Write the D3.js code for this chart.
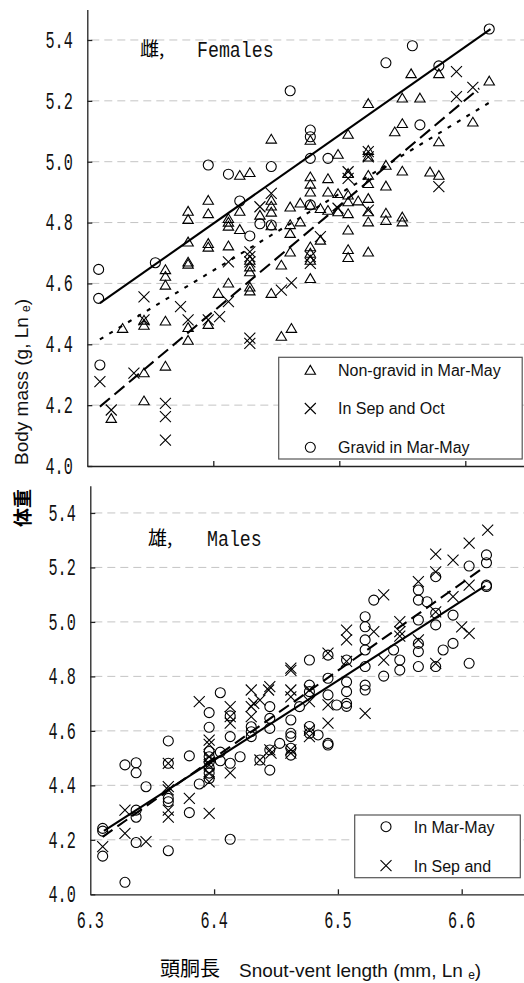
<!DOCTYPE html>
<html><head><meta charset="utf-8">
<script src="https://cdn.jsdelivr.net/npm/d3@7"></script>
<style>body{margin:0;background:#fff}svg{display:block}</style>
</head><body>
<svg id="c" width="524" height="983"></svg>
<script>
// ---------- data ----------
const xTicks = [6.3, 6.4, 6.5, 6.6];
const yTicks = [4.0, 4.2, 4.4, 4.6, 4.8, 5.0, 5.2, 5.4];
const xDomain = [6.3, 6.65];
const yDomain = [4.0, 5.5];

const femaleLegend = ["Non-gravid in Mar-May", "In Sep and Oct", "Gravid in Mar-May"];
const maleLegend = ["In Mar-May", "In Sep and"];

const femaleNonGravid = [
[6.319,4.157],[6.328,4.453],[6.345,4.480],[6.345,4.463],[6.345,4.307],[6.345,4.215],
[6.362,4.646],[6.362,4.624],[6.362,4.595],[6.362,4.477],[6.362,4.329],
[6.380,4.456],[6.380,4.414],[6.380,4.671],[6.380,4.664],[6.380,4.737],[6.380,4.838],[6.380,4.811],
[6.396,4.466],[6.404,4.568],[6.412,4.602],[6.429,4.589],[6.429,4.576],
[6.446,5.075],[6.477,5.071],[6.421,4.956],[6.429,4.965],
[6.396,4.874],[6.396,4.830],[6.412,4.814],[6.412,4.802],[6.412,4.789],
[6.421,4.838],[6.421,4.778],[6.446,4.874],[6.446,4.855],[6.446,4.835],[6.437,4.825],
[6.461,4.852],[6.461,4.794],[6.461,4.765],[6.461,4.704],[6.469,4.865],[6.469,4.803],
[6.477,4.951],[6.477,4.927],[6.477,4.901],[6.477,4.858],[6.485,4.847],[6.491,4.945],[6.491,4.901],
[6.396,4.732],[6.396,4.720],[6.412,4.724],[6.429,4.677],[6.429,4.655],[6.429,4.639],
[6.446,4.568],[6.454,4.661],[6.477,4.721],[6.477,4.700],[6.477,4.677],[6.477,4.617],[6.446,4.790],
[6.507,4.712],[6.507,4.686],[6.523,4.704],[6.454,4.427],[6.462,4.453],[6.485,4.743],
[6.523,5.192],[6.507,5.091],[6.499,5.025],[6.523,5.038],[6.523,5.016],[6.557,5.290],[6.579,5.290],
[6.550,5.210],[6.564,5.210],[6.550,5.126],[6.544,5.099],[6.619,5.266],[6.606,5.131],[6.579,5.066],
[6.537,4.989],[6.550,4.970],[6.572,4.967],[6.579,4.956],[6.507,4.962],[6.523,4.956],[6.523,4.929],
[6.537,4.921],[6.499,4.896],[6.507,4.891],[6.507,4.869],[6.507,4.830],[6.523,4.880],[6.515,4.872],
[6.523,4.836],[6.537,4.832],[6.550,4.819],[6.491,4.841],[6.507,4.776],[6.523,4.803],[6.537,4.808],
[6.550,4.803],[6.499,4.836]
];
const femaleSepOct = [
[6.310,4.277],[6.319,4.184],[6.337,4.305],[6.345,4.556],[6.345,4.480],[6.362,4.206],[6.362,4.162],[6.362,4.085],
[6.374,4.524],[6.380,4.480],[6.396,4.480],[6.405,4.491],[6.412,4.540],[6.412,4.671],
[6.429,4.420],[6.429,4.403],[6.429,4.704],[6.429,4.688],[6.429,4.671],[6.462,4.602],[6.454,4.578],
[6.477,4.688],[6.477,4.666],[6.446,4.896],[6.437,4.852],[6.485,4.754],
[6.593,5.296],[6.593,5.214],[6.606,5.244],[6.579,4.918],[6.523,5.033],[6.523,5.016],
[6.507,4.967],[6.507,4.945],[6.523,4.841],[6.499,4.847]
];
const femaleGravid = [
[6.309,4.646],[6.309,4.551],[6.310,4.332],[6.354,4.668],[6.396,4.989],[6.412,4.959],[6.421,4.871],
[6.437,4.796],[6.429,4.756],[6.446,4.984],[6.446,4.792],[6.477,5.011],[6.477,5.104],[6.477,5.082],
[6.491,5.011],[6.477,4.858],[6.461,5.233],[6.537,5.325],[6.558,5.381],[6.579,5.315],[6.619,5.436],[6.564,5.121]
];
const maleMarMay = [
[6.310,4.242],[6.310,4.232],[6.310,4.140],[6.328,4.475],[6.328,4.044],
[6.337,4.483],[6.337,4.446],[6.337,4.309],[6.337,4.283],[6.337,4.190],[6.345,4.395],
[6.363,4.563],[6.363,4.481],[6.363,4.352],[6.363,4.340],[6.363,4.160],[6.380,4.508],[6.380,4.300],[6.388,4.405],
[6.396,4.667],[6.396,4.613],[6.396,4.524],[6.396,4.505],[6.396,4.485],[6.396,4.465],[6.396,4.445],[6.396,4.425],
[6.405,4.740],[6.405,4.522],[6.405,4.490],[6.413,4.655],[6.413,4.579],[6.413,4.481],[6.413,4.202],[6.421,4.505],
[6.430,4.615],[6.430,4.597],[6.430,4.579],[6.437,4.493],
[6.445,4.689],[6.445,4.646],[6.445,4.609],[6.445,4.456],[6.445,4.530],[6.453,4.554],
[6.462,4.640],[6.462,4.591],[6.462,4.536],[6.462,4.511],[6.462,4.579],[6.469,4.689],
[6.477,4.860],[6.477,4.768],[6.477,4.744],[6.477,4.616],[6.477,4.591],[6.484,4.585],
[6.492,4.793],[6.492,4.732],[6.492,4.554],[6.492,4.548],[6.492,4.878],[6.499,4.695],
[6.507,4.860],[6.507,4.780],[6.507,4.744],[6.507,4.701],[6.507,4.690],
[6.522,5.019],[6.522,4.982],[6.522,4.934],[6.522,4.897],[6.522,4.836],[6.522,4.768],[6.522,4.750],
[6.529,5.080],[6.537,4.801],[6.545,4.897],[6.550,4.860],[6.550,4.823],
[6.565,5.117],[6.565,5.080],[6.565,5.007],[6.565,4.921],[6.565,4.891],[6.565,4.836],[6.572,5.074],
[6.579,5.166],[6.579,5.032],[6.579,4.989],[6.579,4.836],[6.585,4.897],[6.593,5.025],[6.593,4.921],
[6.606,5.205],[6.606,4.848],[6.620,5.246],[6.620,5.217],[6.620,5.135],[6.620,5.130]
];
const maleSepOct = [
[6.310,4.175],[6.328,4.309],[6.328,4.224],[6.345,4.193],
[6.363,4.481],[6.363,4.395],[6.363,4.383],[6.363,4.309],[6.363,4.283],[6.380,4.352],
[6.396,4.297],[6.396,4.566],[6.396,4.550],[6.396,4.444],[6.396,4.413],[6.396,4.505],[6.396,4.475],[6.388,4.707],
[6.413,4.689],[6.413,4.652],[6.413,4.628],[6.413,4.446],[6.430,4.750],[6.430,4.689],[6.430,4.652],
[6.437,4.713],[6.444,4.750],[6.445,4.762],[6.462,4.750],[6.462,4.830],[6.462,4.822],[6.432,4.701],
[6.492,4.885],[6.507,4.970],[6.507,4.934],[6.477,4.750],[6.477,4.707],[6.492,4.695],[6.507,4.855],
[6.522,4.664],[6.529,4.964],[6.537,5.099],[6.537,4.860],[6.550,5.001],[6.550,4.964],[6.550,4.948],
[6.565,5.148],[6.565,4.934],[6.579,5.184],[6.579,4.848],[6.462,4.725],[6.477,4.603],[6.477,4.579],
[6.492,4.628],[6.445,4.530],[6.462,4.530],[6.462,4.518],[6.437,4.493],[6.446,4.518],
[6.579,5.249],[6.593,5.227],[6.606,5.289],[6.621,5.337],[6.593,5.093],[6.606,5.135],
[6.600,4.982],[6.606,4.958],[6.579,5.037]
];
const femaleFitGravid = [[6.31,4.535],[6.62,5.436]];
const femaleFitNonGravid = [[6.31,4.416],[6.619,5.194]];
const femaleFitSepOct = [[6.31,4.195],[6.611,5.241]];
const maleFitMarMay = [[6.311,4.233],[6.619,5.132]];
const maleFitSepOct = [[6.31,4.211],[6.618,5.200]];

// ---------- drawing ----------
const svg = d3.select("#c");
const MONO = "'Liberation Mono','DejaVu Sans Mono',monospace";
const SANS = "'Liberation Sans',Arial,sans-serif";
const CJK = "'Noto Sans CJK JP','Noto Sans CJK SC',sans-serif";

const P1 = {
  x: d3.scaleLinear().domain(xDomain).range([87.3, 87.3 + 0.35 * 1260]),
  y: d3.scaleLinear().domain(yDomain).range([466, 466 - 1.5 * 304.3])
};
const P2 = {
  x: d3.scaleLinear().domain(xDomain).range([90.3, 90.3 + 0.35 * 1238]),
  y: d3.scaleLinear().domain(yDomain).range([894.3, 894.3 - 1.5 * 272.4])
};

function monoText(g, x, y, s, anchor, size, sx) {
  g.append("g").attr("transform", `translate(${x},${y}) scale(${sx},1)`)
    .append("text").attr("text-anchor", anchor)
    .attr("font-family", MONO).attr("font-size", size).attr("fill", "#111").text(s);
}

const triPath = "M0,-4.6L5.2,4.2L-5.2,4.2Z";
const crossPath = "M-5.5,-5.5L5.5,5.5M-5.5,5.5L5.5,-5.5";

function drawTri(g, pts, p) {
  g.selectAll(null).data(pts).enter().append("path")
    .attr("d", triPath)
    .attr("transform", d => `translate(${p.x(d[0])},${p.y(d[1])})`)
    .attr("fill", "none").attr("stroke", "#000").attr("stroke-width", 1.1);
}
function drawCross(g, pts, p) {
  g.selectAll(null).data(pts).enter().append("path")
    .attr("d", crossPath)
    .attr("transform", d => `translate(${p.x(d[0])},${p.y(d[1])})`)
    .attr("fill", "none").attr("stroke", "#000").attr("stroke-width", 1.1);
}
function drawCircle(g, pts, p) {
  g.selectAll(null).data(pts).enter().append("circle")
    .attr("cx", d => p.x(d[0])).attr("cy", d => p.y(d[1])).attr("r", 5)
    .attr("fill", "none").attr("stroke", "#000").attr("stroke-width", 1.1);
}
function drawFit(g, pts, p, dash) {
  g.append("path").datum(pts)
    .attr("d", d3.line().x(d => p.x(d[0])).y(d => p.y(d[1])))
    .attr("fill", "none").attr("stroke", "#000").attr("stroke-width", 2.1)
    .attr("stroke-dasharray", dash);
}

function drawFrame(p, withXLabels) {
  const g = svg.append("g");
  const x0 = p.x(xDomain[0]);
  g.selectAll(null).data(yTicks.filter(v => v > yDomain[0])).enter().append("line")
    .attr("x1", x0 + 4).attr("x2", 524)
    .attr("y1", d => p.y(d)).attr("y2", d => p.y(d))
    .attr("stroke", "#c4c4c4").attr("stroke-width", 1).attr("stroke-dasharray", "8,5");
  const ya = d3.axisLeft(p.y).tickValues(yTicks).tickSize(-5).tickSizeOuter(0).tickFormat("");
  const yg = g.append("g").attr("transform", `translate(${x0},0)`).call(ya);
  yg.selectAll("path,line").attr("stroke", "#222").attr("stroke-width", 1.3);
  const xa = d3.axisBottom(p.x).tickValues(xTicks.slice(1)).tickSize(-5).tickSizeOuter(0).tickFormat("");
  const xg = g.append("g").attr("transform", `translate(0,${p.y(yDomain[0])})`).call(xa);
  xg.selectAll("path,line").attr("stroke", "#222").attr("stroke-width", 1.3);
  yTicks.forEach(v => monoText(g, x0 - 14.5, p.y(v) + 7.8, d3.format(".1f")(v), "end", 23, 0.66));
  if (withXLabels) {
    xTicks.forEach(v => monoText(g, p.x(v), p.y(yDomain[0]) + 33.5, d3.format(".1f")(v), "middle", 23, 0.66));
  }
  return g;
}

// ----- top panel: females -----
const g1 = drawFrame(P1, false);
drawFit(g1, femaleFitGravid, P1, null);
drawFit(g1, femaleFitNonGravid, P1, "4,7");
drawFit(g1, femaleFitSepOct, P1, "13,6");
drawTri(g1, femaleNonGravid, P1);
drawCross(g1, femaleSepOct, P1);
drawCircle(g1, femaleGravid, P1);

g1.append("text").attr("x", 140).attr("y", 56).attr("font-family", CJK).attr("font-size", 19).text("雌,");
monoText(g1, 197, 56.5, "Females", "start", 22, 0.83);

const lg1 = svg.append("g");
lg1.append("rect").attr("x", 278.7).attr("y", 357.3).attr("width", 243.5).attr("height", 101.7)
  .attr("fill", "#fff").attr("stroke", "#555").attr("stroke-width", 1.2);
const lgY1 = [370, 408.5, 447.3];
femaleLegend.forEach((t, i) => {
  const gx = 310.3, gy = lgY1[i];
  if (i === 0) lg1.append("path").attr("d", triPath).attr("transform", `translate(${gx},${gy})`).attr("fill", "none").attr("stroke", "#000").attr("stroke-width", 1.1);
  if (i === 1) lg1.append("path").attr("d", crossPath).attr("transform", `translate(${gx},${gy})`).attr("fill", "none").attr("stroke", "#000").attr("stroke-width", 1.1);
  if (i === 2) lg1.append("circle").attr("cx", gx).attr("cy", gy).attr("r", 5).attr("fill", "none").attr("stroke", "#000").attr("stroke-width", 1.1);
  lg1.append("text").attr("x", 338).attr("y", gy + 5.8).attr("font-family", SANS).attr("font-size", 16).attr("fill", "#111").text(t);
});

// ----- bottom panel: males -----
const g2 = drawFrame(P2, true);
drawFit(g2, maleFitMarMay, P2, null);
drawFit(g2, maleFitSepOct, P2, "12,6");
drawCircle(g2, maleMarMay, P2);
drawCross(g2, maleSepOct, P2);

g2.append("text").attr("x", 148).attr("y", 545).attr("font-family", CJK).attr("font-size", 19).text("雄,");
monoText(g2, 207, 545.5, "Males", "start", 22, 0.83);

const lg2 = svg.append("g");
lg2.append("rect").attr("x", 354.7).attr("y", 815).attr("width", 165.6).attr("height", 62.7)
  .attr("fill", "#fff").attr("stroke", "#555").attr("stroke-width", 1.2);
const lgY2 = [826.7, 865.7];
maleLegend.forEach((t, i) => {
  const gx = 386, gy = lgY2[i];
  if (i === 0) lg2.append("circle").attr("cx", gx).attr("cy", gy).attr("r", 5).attr("fill", "none").attr("stroke", "#000").attr("stroke-width", 1.1);
  if (i === 1) lg2.append("path").attr("d", crossPath).attr("transform", `translate(${gx},${gy})`).attr("fill", "none").attr("stroke", "#000").attr("stroke-width", 1.1);
  lg2.append("text").attr("x", 413.7).attr("y", gy + 5.8).attr("font-family", SANS).attr("font-size", 16).attr("fill", "#111").text(t);
});

// ----- axis titles -----
svg.append("text").attr("transform", "translate(30,527) rotate(-90)")
  .attr("font-family", CJK).attr("font-size", 19).attr("font-weight", "bold").text("体重");
const yl2 = svg.append("text").attr("transform", "translate(28,465) rotate(-90)")
  .attr("font-family", SANS).attr("font-size", 19).attr("fill", "#111");
yl2.append("tspan").text("Body mass (g, Ln ");
yl2.append("tspan").attr("font-size", 12).attr("dy", 2).text("e");
yl2.append("tspan").attr("dy", -2).text(")");

svg.append("text").attr("x", 160).attr("y", 976).attr("font-family", CJK).attr("font-size", 20).text("頭胴長");
const xl = svg.append("text").attr("x", 239).attr("y", 977).attr("font-family", SANS).attr("font-size", 19).attr("fill", "#111");
xl.append("tspan").text("Snout-vent length (mm, Ln ");
xl.append("tspan").attr("font-size", 12).attr("dy", 2).text("e");
xl.append("tspan").attr("dy", -2).text(")");
</script>
</body></html>
